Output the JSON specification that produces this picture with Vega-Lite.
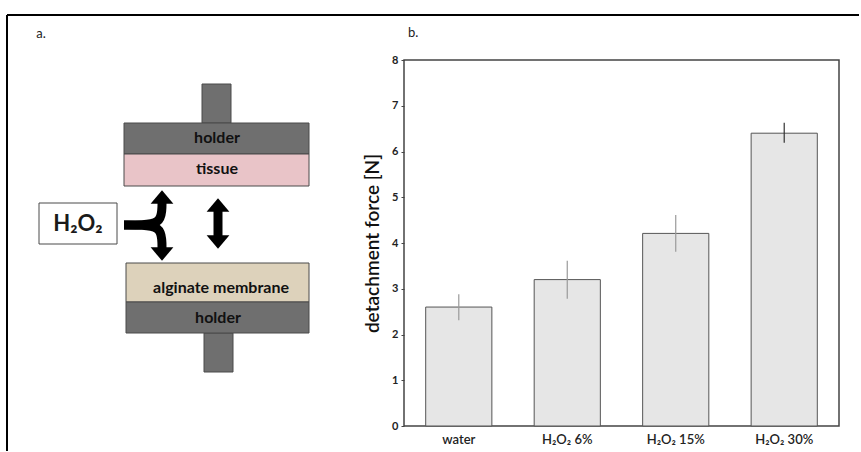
{
  "$schema": "https://vega.github.io/schema/vega-lite/v6.json",
  "padding": 0,
  "background": "white",
  "config": {"font": "Lato", "view": {"stroke": null}},
  "datasets": {
    "anchor": [{"x": 0, "y": 0, "x2": 1, "y2": 1}],
    "frame": [
      {"x": 7, "x2": 859, "y": 14, "y2": 14},
      {"x": 7, "x2": 7, "y": 14, "y2": 450}
    ],
    "parts": [
      {"name": "upper stem", "kind": "holder", "x": 202, "x2": 231, "y": 83, "y2": 122},
      {"name": "upper holder", "kind": "holder", "x": 124, "x2": 309, "y": 122, "y2": 153},
      {"name": "tissue", "kind": "tissue", "x": 124, "x2": 309, "y": 153, "y2": 185},
      {"name": "lower stem", "kind": "holder", "x": 204, "x2": 233, "y": 332, "y2": 371},
      {"name": "membrane", "kind": "membrane", "x": 126, "x2": 309, "y": 262, "y2": 301},
      {"name": "lower holder", "kind": "holder", "x": 126, "x2": 309, "y": 301, "y2": 332},
      {"name": "H2O2 box", "kind": "box", "x": 39, "x2": 117, "y": 202, "y2": 243}
    ],
    "labels": [
      {"role": "part", "t": "holder", "x": 217, "y": 137},
      {"role": "part", "t": "tissue", "x": 217, "y": 168},
      {"role": "part", "t": "alginate membrane", "x": 221, "y": 287},
      {"role": "part", "t": "holder", "x": 218, "y": 317},
      {"role": "chem", "t": "H₂O₂", "x": 78, "y": 223},
      {"role": "panel", "t": "a.", "x": 41, "y": 33}
    ],
    "paths": [
      {"path": "up", "seq": 1, "x": 124, "y": 224},
      {"path": "up", "seq": 2, "x": 142, "y": 224},
      {"path": "up", "seq": 3, "x": 160, "y": 222},
      {"path": "up", "seq": 4, "x": 162, "y": 209},
      {"path": "up", "seq": 5, "x": 162, "y": 202},
      {"path": "down", "seq": 1, "x": 124, "y": 224},
      {"path": "down", "seq": 2, "x": 142, "y": 224},
      {"path": "down", "seq": 3, "x": 160, "y": 226},
      {"path": "down", "seq": 4, "x": 162, "y": 239},
      {"path": "down", "seq": 5, "x": 162, "y": 247}
    ],
    "heads": [
      {"dir": "up", "x": 162, "y": 196},
      {"dir": "down", "x": 162, "y": 253},
      {"dir": "up", "x": 218, "y": 204},
      {"dir": "down", "x": 218, "y": 241}
    ],
    "shafts": [{"x": 218, "y": 209, "y2": 236}],
    "force": [
      {"group": "water", "force": 2.6, "lo": 2.31, "hi": 2.88},
      {"group": "H₂O₂ 6%", "force": 3.2, "lo": 2.78, "hi": 3.61},
      {"group": "H₂O₂ 15%", "force": 4.21, "lo": 3.81, "hi": 4.61},
      {"group": "H₂O₂ 30%", "force": 6.4, "lo": 6.19, "hi": 6.63}
    ]
  },
  "spacing": 0,
  "bounds": "flush",
  "align": "each",
  "hconcat": [
    {
      "width": 404,
      "height": 366,
      "layer": [
        {
          "data": {"name": "anchor"},
          "mark": {"type": "rect", "fill": "white", "strokeWidth": 0},
          "encoding": {
            "x": {"field": "x", "type": "quantitative", "scale": {"domain": [0, 404], "nice": false, "zero": false}, "axis": null},
            "x2": {"field": "x2"},
            "y": {"field": "y", "type": "quantitative", "scale": {"domain": [59, 425], "nice": false, "zero": false, "reverse": true}, "axis": null},
            "y2": {"field": "y2"}
          }
        },
        {
          "data": {"name": "frame"},
          "mark": {"type": "rule", "color": "black", "strokeWidth": 2},
          "encoding": {
            "x": {"field": "x", "type": "quantitative", "axis": null},
            "x2": {"field": "x2"},
            "y": {"field": "y", "type": "quantitative", "axis": null},
            "y2": {"field": "y2"}
          }
        },
        {
          "data": {"name": "parts"},
          "mark": {"type": "rect", "stroke": "#4a4a4a", "strokeWidth": 1},
          "encoding": {
            "x": {"field": "x", "type": "quantitative", "axis": null},
            "x2": {"field": "x2"},
            "y": {"field": "y", "type": "quantitative", "axis": null},
            "y2": {"field": "y2"},
            "fill": {"field": "kind", "type": "nominal", "scale": {"domain": ["holder", "tissue", "membrane", "box"], "range": ["#6f6f6f", "#e9c4c8", "#ddd2bb", "#ffffff"]}, "legend": null}
          }
        },
        {
          "data": {"name": "paths"},
          "mark": {"type": "line", "interpolate": "basis", "strokeWidth": 9, "color": "black", "strokeCap": "butt"},
          "encoding": {
            "x": {"field": "x", "type": "quantitative", "axis": null},
            "y": {"field": "y", "type": "quantitative", "axis": null},
            "detail": {"field": "path"},
            "order": {"field": "seq"}
          }
        },
        {
          "data": {"name": "shafts"},
          "mark": {"type": "rule", "color": "black", "strokeWidth": 9},
          "encoding": {
            "x": {"field": "x", "type": "quantitative", "axis": null},
            "y": {"field": "y", "type": "quantitative", "axis": null},
            "y2": {"field": "y2"}
          }
        },
        {
          "data": {"name": "heads"},
          "mark": {"type": "point", "filled": true, "color": "black", "opacity": 1, "size": 520, "strokeWidth": 0},
          "encoding": {
            "x": {"field": "x", "type": "quantitative", "axis": null},
            "y": {"field": "y", "type": "quantitative", "axis": null},
            "shape": {"field": "dir", "type": "nominal", "scale": {"domain": ["up", "down"], "range": ["M-1,0.6L0,-0.6L1,0.6Z", "M-1,-0.6L0,0.6L1,-0.6Z"]}, "legend": null}
          }
        },
        {
          "data": {"name": "labels"},
          "transform": [{"filter": "datum.role === 'part'"}],
          "mark": {"type": "text", "fontSize": 16, "fontWeight": "bold", "color": "#111", "baseline": "middle", "align": "center"},
          "encoding": {
            "x": {"field": "x", "type": "quantitative", "axis": null},
            "y": {"field": "y", "type": "quantitative", "axis": null},
            "text": {"field": "t"}
          }
        },
        {
          "data": {"name": "labels"},
          "transform": [{"filter": "datum.role === 'chem'"}],
          "mark": {"type": "text", "fontSize": 22, "fontWeight": "bold", "color": "#1a1a1a", "baseline": "middle", "align": "center"},
          "encoding": {
            "x": {"field": "x", "type": "quantitative", "axis": null},
            "y": {"field": "y", "type": "quantitative", "axis": null},
            "text": {"field": "t"}
          }
        },
        {
          "data": {"name": "labels"},
          "transform": [{"filter": "datum.role === 'panel'"}],
          "mark": {"type": "text", "fontSize": 13, "color": "#222", "baseline": "middle", "align": "center"},
          "encoding": {
            "x": {"field": "x", "type": "quantitative", "axis": null},
            "y": {"field": "y", "type": "quantitative", "axis": null},
            "text": {"field": "t"}
          }
        }
      ]
    },
    {
      "width": 435,
      "height": 366,
      "view": {"stroke": "#444", "strokeWidth": 1.5},
      "title": {"text": "b.", "anchor": "start", "frame": "group", "fontSize": 13, "fontWeight": "normal", "color": "#222", "offset": 14, "dx": 4},
      "data": {"name": "force"},
      "encoding": {
        "x": {
          "field": "group", "type": "nominal", "sort": null,
          "scale": {"paddingInner": 0.39, "paddingOuter": 0.2},
          "axis": {"title": null, "labelAngle": 0, "ticks": false, "domain": false, "labelFontSize": 13, "labelFontWeight": 600, "labelColor": "#222", "labelPadding": 7}
        }
      },
      "layer": [
        {
          "mark": {"type": "bar", "fill": "#e6e6e6", "stroke": "#555", "strokeWidth": 1},
          "encoding": {
            "y": {
              "field": "force", "type": "quantitative",
              "scale": {"domain": [0, 8], "nice": false},
              "axis": {
                "title": "detachment force [N]", "titleFontSize": 19, "titleFontWeight": 600, "titleColor": "#111", "titlePadding": 9,
                "values": [0, 0.5, 1, 1.5, 2, 2.5, 3, 3.5, 4, 4.5, 5, 5.5, 6, 6.5, 7, 7.5, 8],
                "labelExpr": "datum.value % 1 === 0 ? datum.label : ''",
                "labelFontSize": 11, "labelFontWeight": "bold", "labelColor": "#222", "labelPadding": 3,
                "tickSize": 3, "tickColor": "#444", "grid": false, "domain": false
              }
            }
          }
        },
        {
          "mark": {"type": "rule", "strokeWidth": 1.2},
          "encoding": {
            "y": {"field": "lo", "type": "quantitative"},
            "y2": {"field": "hi"},
            "color": {"condition": {"test": "datum.group === 'H₂O₂ 30%'", "value": "#333"}, "value": "#9a9a9a"}
          }
        }
      ]
    }
  ]
}
